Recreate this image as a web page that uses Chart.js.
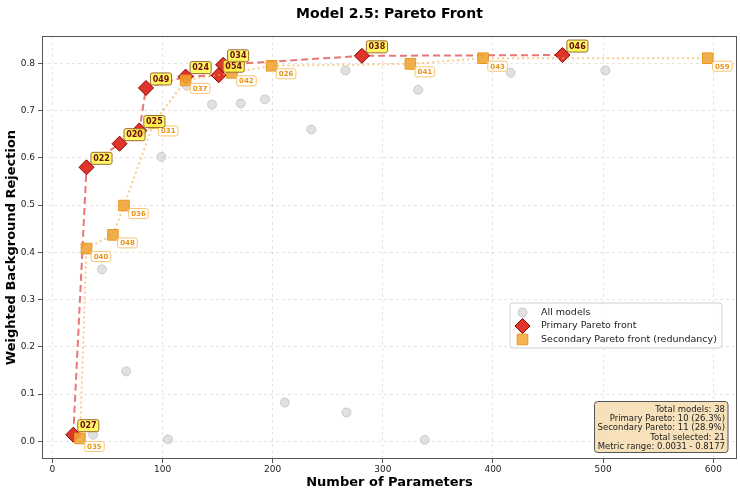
<!DOCTYPE html>
<html>
<head>
<meta charset="utf-8">
<script src="https://cdn.jsdelivr.net/npm/chart.js@4.4.1/dist/chart.umd.min.js"></script>
<style>
  html, body { margin: 0; padding: 0; background: #fff; }
</style>
</head>
<body>
<canvas id="paretoChart" width="740" height="492"></canvas>
<script>
const FONT = "'DejaVu Sans', sans-serif";

// primary pareto front (labels, params, score)
const primaryIds = ['027', '022', '020', '025', '049', '024', '054', '034', '038', '046'];
const primaryParams = [19, 31, 61, 79, 85, 121, 151, 155, 281, 463];
const primaryScores = [0.014, 0.580, 0.630, 0.658, 0.748, 0.772, 0.775, 0.797, 0.816, 0.8177];

// secondary pareto front (redundancy)
const secondaryIds = ['035', '040', '048', '036', '031', '037', '042', '026', '041', '043', '059'];
const secondaryParams = [25, 31, 55, 65, 92, 121, 163, 199, 325, 391, 595];
const secondaryScores = [0.006, 0.408, 0.437, 0.499, 0.674, 0.764, 0.780, 0.795, 0.799, 0.811, 0.811];

// the remaining models (not on either front)
const otherParams = [37, 105, 45, 67, 122, 99, 145, 171, 193, 235, 266, 332, 416, 502, 211, 267, 338];
const otherScores = [0.014, 0.004, 0.364, 0.148, 0.753, 0.602, 0.713, 0.715, 0.724, 0.660, 0.785, 0.744, 0.780, 0.785, 0.082, 0.061, 0.0031];

const xTicks = [0, 100, 200, 300, 400, 500, 600];
const yTicks = [0.0, 0.1, 0.2, 0.3, 0.4, 0.5, 0.6, 0.7, 0.8];

const allParams = otherParams.concat(primaryParams, secondaryParams);
const allScores = otherScores.concat(primaryScores, secondaryScores);

const toPoints = (xs, ys) => xs.map((x, i) => ({ x: x, y: ys[i] }));

function roundBox(ctx, x, y, w, h, r) {
    ctx.beginPath();
    ctx.moveTo(x + r, y);
    ctx.lineTo(x + w - r, y);
    ctx.arcTo(x + w, y, x + w, y + r, r);
    ctx.lineTo(x + w, y + h - r);
    ctx.arcTo(x + w, y + h, x + w - r, y + h, r);
    ctx.lineTo(x + r, y + h);
    ctx.arcTo(x, y + h, x, y + h - r, r);
    ctx.lineTo(x, y + r);
    ctx.arcTo(x, y, x + r, y, r);
    ctx.closePath();
}

function drawTag(ctx, text, cx, cy, opt) {
    ctx.font = opt.font;
    const w = ctx.measureText(text).width + opt.pad * 2;
    roundBox(ctx, cx - w / 2, cy - opt.h / 2, w, opt.h, 2);
    ctx.fillStyle = opt.fill;
    ctx.fill();
    ctx.strokeStyle = opt.stroke;
    ctx.lineWidth = 1;
    ctx.stroke();
    ctx.fillStyle = opt.color;
    ctx.textAlign = 'center';
    ctx.textBaseline = 'middle';
    ctx.fillText(text, cx, cy + 0.5);
}

const framePlugin = {
    id: 'frame',
    beforeDatasetsDraw(chart) {
        const a = chart.chartArea;
        const ctx = chart.ctx;
        ctx.save();
        ctx.strokeStyle = '#555';
        ctx.lineWidth = 1;
        ctx.strokeRect(a.left + 0.5, a.top + 0.5, a.right - a.left - 1, a.bottom - a.top - 1);
        ctx.restore();
    }
};

const tagPlugin = {
    id: 'tags',
    afterDatasetsDraw(chart) {
        const ctx = chart.ctx;
        const sx = chart.scales.x, sy = chart.scales.y;
        ctx.save();
        secondaryIds.forEach((id, i) => {
            drawTag(ctx, id, sx.getPixelForValue(secondaryParams[i]) + 14.5, sy.getPixelForValue(secondaryScores[i]) + 8, {
                font: 'bold 7px ' + FONT, pad: 2.5, h: 10,
                fill: 'rgba(255,255,255,0.85)', stroke: '#f8c471', color: '#e8961c'
            });
        });
        primaryIds.forEach((id, i) => {
            drawTag(ctx, id, sx.getPixelForValue(primaryParams[i]) + 15, sy.getPixelForValue(primaryScores[i]) - 9, {
                font: 'bold 8px ' + FONT, pad: 2.2, h: 12,
                fill: 'rgba(255,250,70,0.85)', stroke: '#9c6a3a', color: '#6e0e0e'
            });
        });
        ctx.restore();
    }
};

const overlayPlugin = {
    id: 'overlay',
    afterDraw(chart) {
        const ctx = chart.ctx;
        const a = chart.chartArea;
        ctx.save();

        // title centred over the axes
        ctx.font = 'bold 14px ' + FONT;
        ctx.fillStyle = '#000';
        ctx.textAlign = 'center';
        ctx.textBaseline = 'middle';
        ctx.fillText('Model 2.5: Pareto Front', (a.left + a.right) / 2, 14);

        // legend
        const entries = [
            { text: 'All models', kind: 'circle' },
            { text: 'Primary Pareto front', kind: 'diamond' },
            { text: 'Secondary Pareto front (redundancy)', kind: 'square' }
        ];
        ctx.font = '9.5px ' + FONT;
        const textW = Math.max(...entries.map(e => ctx.measureText(e.text).width));
        const lx = 510, ly = 303, lw = 31 + textW + 5, lh = 45;
        roundBox(ctx, lx, ly, lw, lh, 3);
        ctx.fillStyle = 'rgba(255,255,255,0.85)';
        ctx.fill();
        ctx.strokeStyle = '#d0d0d0';
        ctx.stroke();
        entries.forEach((e, i) => {
            const cy = ly + 9.5 + i * 13.5;
            const cx = lx + 12.5;
            ctx.beginPath();
            if (e.kind === 'circle') {
                ctx.arc(cx, cy, 4.5, 0, Math.PI * 2);
                ctx.fillStyle = 'rgba(200,200,200,0.55)';
                ctx.fill();
                ctx.strokeStyle = 'rgba(170,170,170,0.5)';
                ctx.stroke();
            } else if (e.kind === 'diamond') {
                ctx.moveTo(cx - 7.5, cy); ctx.lineTo(cx, cy - 7.5); ctx.lineTo(cx + 7.5, cy); ctx.lineTo(cx, cy + 7.5);
                ctx.closePath();
                ctx.fillStyle = '#e0352b';
                ctx.fill();
                ctx.strokeStyle = '#8b0000';
                ctx.stroke();
            } else {
                ctx.rect(cx - 5.3, cy - 5.3, 10.6, 10.6);
                ctx.fillStyle = 'rgba(245,166,50,0.85)';
                ctx.fill();
                ctx.strokeStyle = '#e8961c';
                ctx.stroke();
            }
            ctx.fillStyle = '#222';
            ctx.textAlign = 'left';
            ctx.textBaseline = 'middle';
            ctx.fillText(e.text, lx + 31, cy);
        });

        // stats box
        const total = allScores.length;
        const lines = [
            'Total models: ' + total,
            'Primary Pareto: ' + primaryIds.length + ' (' + (primaryIds.length / total * 100).toFixed(1) + '%)',
            'Secondary Pareto: ' + secondaryIds.length + ' (' + (secondaryIds.length / total * 100).toFixed(1) + '%)',
            'Total selected: ' + (primaryIds.length + secondaryIds.length),
            'Metric range: ' + Math.min(...allScores).toFixed(4) + ' - ' + Math.max(...allScores).toFixed(4)
        ];
        ctx.font = '8.5px ' + FONT;
        const sw = Math.max(...lines.map(t => ctx.measureText(t).width)) + 6;
        const sh = 51;
        const bx = a.right - 9 - sw, by = a.bottom - 6.5 - sh;
        roundBox(ctx, bx, by, sw, sh, 3);
        ctx.fillStyle = 'rgba(245,222,179,0.9)';
        ctx.fill();
        ctx.strokeStyle = '#555';
        ctx.stroke();
        ctx.fillStyle = '#222';
        ctx.textAlign = 'right';
        lines.forEach((t, i) => ctx.fillText(t, bx + sw - 3, by + 8 + i * 9.3));

        ctx.restore();
    }
};

const ctx = document.getElementById('paretoChart').getContext('2d');
const chart = new Chart(ctx, {
    type: 'scatter',
    data: {
        datasets: [
            {
                label: 'Secondary Pareto front (redundancy)',
                data: toPoints(secondaryParams, secondaryScores),
                showLine: true,
                borderColor: 'rgba(243,170,60,0.6)',
                borderWidth: 2,
                borderDash: [2, 3],
                pointStyle: 'rect',
                pointRadius: 7.5,
                pointBackgroundColor: 'rgba(245,166,50,0.85)',
                pointBorderColor: '#e8961c',
                pointBorderWidth: 1,
                order: 1
            },
            {
                label: 'Primary Pareto front',
                data: toPoints(primaryParams, primaryScores),
                showLine: true,
                borderColor: 'rgba(225,60,60,0.7)',
                borderWidth: 2,
                borderDash: [7, 4],
                pointStyle: 'rectRot',
                pointRadius: 7.5,
                pointBackgroundColor: '#e0352b',
                pointBorderColor: '#8b0000',
                pointBorderWidth: 1,
                order: 2
            },
            {
                label: 'All models',
                data: toPoints(allParams, allScores),
                pointStyle: 'circle',
                pointRadius: 4.5,
                pointBackgroundColor: 'rgba(200,200,200,0.55)',
                pointBorderColor: 'rgba(170,170,170,0.5)',
                pointBorderWidth: 1,
                order: 3
            }
        ]
    },
    options: {
        responsive: false,
        animation: false,
        layout: { autoPadding: false, padding: { top: 36, right: 3 } },
        scales: {
            x: {
                type: 'linear',
                min: -9.4,
                max: 621.5,
                afterBuildTicks: s => { s.ticks = xTicks.map(v => ({ value: v })); },
                afterFit: s => { s.height = 33; s.paddingLeft = 0; s.paddingRight = 0; },
                ticks: { color: '#222', font: { family: FONT, size: 9 }, padding: 1, maxRotation: 0 },
                grid: { color: 'rgba(0,0,0,0.1)', tickColor: '#555', tickLength: 4 },
                border: { display: false, dash: [3, 3] },
                title: { display: true, text: 'Number of Parameters', color: '#000', font: { family: FONT, size: 13, weight: 'bold' }, padding: { top: 0, bottom: 2 } }
            },
            y: {
                type: 'linear',
                min: -0.0375,
                max: 0.858,
                afterBuildTicks: s => { s.ticks = yTicks.map(v => ({ value: v })); },
                afterFit: s => { s.width = 42; s.paddingTop = 0; s.paddingBottom = 0; },
                ticks: { color: '#222', font: { family: FONT, size: 9 }, padding: 3, callback: v => v.toFixed(1) },
                grid: { color: 'rgba(0,0,0,0.1)', tickColor: '#555', tickLength: 4 },
                border: { display: false, dash: [3, 3] },
                title: { display: true, text: 'Weighted Background Rejection', color: '#000', font: { family: FONT, size: 13, weight: 'bold' }, padding: { top: 4, bottom: 0 } }
            }
        },
        plugins: { legend: { display: false }, tooltip: { enabled: false }, title: { display: false } }
    },
    plugins: [framePlugin, tagPlugin, overlayPlugin]
});
</script>
</body>
</html>
